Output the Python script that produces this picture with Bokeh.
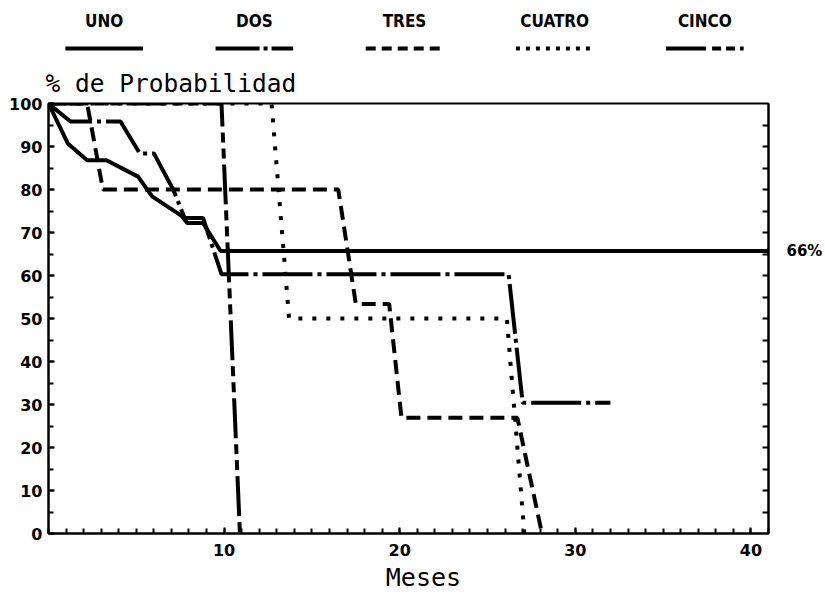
from bokeh.plotting import figure
from bokeh.models import Range1d, FixedTicker, LinearAxis, CustomJSTickFormatter, Title
from bokeh.layouts import column
from bokeh.embed import file_html
from bokeh.resources import INLINE
from bokeh.core.properties import value

# ---- data ----
series_names = ["UNO", "DOS", "TRES", "CUATRO", "CINCO"]

uno_x = [0, 1.1, 2.2, 3.3, 5.1, 5.9, 7.6, 7.9, 8.8, 9.8, 41]
uno_y = [100, 90.7, 86.8, 86.8, 83.0, 78.4, 73.8, 72.2, 72.2, 65.7, 65.7]

dos_x = [0, 1.25, 4.1, 5.2, 6.0, 7.1, 7.75, 8.8, 9.85, 26.2, 27.0, 32.0]
dos_y = [100, 95.8, 95.8, 88.4, 88.4, 80, 73.4, 73.4, 60.3, 60.3, 30.4, 30.4]

tres_x = [0, 2.2, 3.1, 16.5, 17.5, 19.4, 20.1, 26.7, 28.1]
tres_y = [100, 100, 80, 80, 53.4, 53.4, 26.9, 26.9, 0]

cuatro_x = [0, 12.7, 13.7, 26.1, 27.1]
cuatro_y = [100, 100, 50, 50, 0]

cinco_x = [0, 9.85, 10.9]
cinco_y = [100, 100, 0]

x_ticks = [10, 20, 30, 40]
x_minor = list(range(0, 42))
y_ticks = list(range(0, 101, 10))
y_minor = list(range(0, 101, 5))

y_title = "% de Probabilidad"
x_title = "Meses"

# ---- styles / layout ----
dashes = ["solid", "50 5 4 5", "14 7", "4 10", "40 6 10 6 10 6"]
leg_dashes = ["solid", "44 4 4 4", "10 6", "4 6", "40 6 9 5 9 5"]
LW = 4
W = 825
H_LEG = 60
BL, BR = 48, 53          # frame spans pixels 48..772
FRAME_TOP, FRAME_BOT = 102, 533
MAIN_END = 562
H_MAIN = MAIN_END - H_LEG
H_FOOT = 31


def blank(height):
    f = figure(width=W, height=height, x_range=Range1d(BL, W - BR), y_range=Range1d(height, 0),
               output_backend="svg", toolbar_location=None,
               min_border_left=BL, min_border_right=BR, min_border_top=0, min_border_bottom=0,
               x_axis_location=None, y_axis_location=None)
    f.grid.visible = False
    f.outline_line_color = None
    return f


# ---- legend figure (pixel coordinates) ----
leg = blank(H_LEG)
centers = [104 + 151 * i for i in range(len(series_names))]
leg.text(x=centers, y=[20] * len(centers), text=series_names, text_align="center",
         text_baseline="middle",
         text_font=value("'DejaVu Sans Condensed', 'Liberation Sans Narrow', sans-serif"),
         text_font_style="bold", text_font_size="17px", text_color="black")
for c, d in zip(centers, leg_dashes):
    leg.line(x=[c - 39, c + 39], y=[48, 48], line_dash=d, line_width=4, line_color="black")

# ---- main figure ----
p = figure(width=W, height=H_MAIN, x_range=Range1d(0, 41), y_range=Range1d(0, 100),
           output_backend="svg", toolbar_location=None,
           min_border_left=BL, min_border_right=BR, min_border_top=FRAME_TOP - H_LEG,
           min_border_bottom=MAIN_END - FRAME_BOT)
p.title = Title(text=y_title, align="left", offset=-3, standoff=12,
                text_font="DejaVu Sans Mono", text_font_style="normal",
                text_font_size="24.5px", text_color="black")
p.grid.visible = False
p.outline_line_color = "black"
p.outline_line_width = 2

for xs, ys, d in zip([uno_x, dos_x, tres_x, cuatro_x, cinco_x],
                     [uno_y, dos_y, tres_y, cuatro_y, cinco_y], dashes):
    p.line(x=xs, y=ys, line_dash=d, line_width=LW, line_color="black")

p.xaxis.ticker = FixedTicker(ticks=x_ticks, minor_ticks=x_minor)
p.yaxis.ticker = FixedTicker(ticks=y_ticks, minor_ticks=y_minor)
for ax in p.axis:
    ax.axis_line_width = 2
    ax.axis_line_color = "black"
    ax.major_tick_line_width = 2
    ax.minor_tick_line_width = 2
    ax.major_tick_out = 0
    ax.minor_tick_out = 0
    ax.major_tick_in = 6
    ax.minor_tick_in = 5
    ax.major_label_text_font = "DejaVu Sans"
    ax.major_label_text_font_style = "bold"
    ax.major_label_text_font_size = "16px"
    ax.major_label_text_color = "black"
    ax.major_label_standoff = 10
p.yaxis.major_label_standoff = 6

# right axis: inward ticks every 5 and the final value of UNO as "66%"
right = LinearAxis(ticker=FixedTicker(ticks=[uno_y[-1]], minor_ticks=y_minor[1:-1]),
                   formatter=CustomJSTickFormatter(code="return Math.round(tick) + '%'"),
                   axis_line_width=2, minor_tick_in=6, minor_tick_out=0,
                   minor_tick_line_width=2, major_tick_in=0, major_tick_out=0,
                   major_label_standoff=18, major_label_text_font="DejaVu Sans",
                   major_label_text_font_style="bold", major_label_text_font_size="15px",
                   major_label_text_color="black")
p.add_layout(right, "right")

# ---- footer with the x-axis title ----
foot = blank(H_FOOT)
foot.text(x=[425], y=[15], text=[x_title], text_align="center", text_baseline="middle",
          text_font=value("DejaVu Sans Mono"), text_font_size="25px", text_color="black")

layout = column(leg, p, foot, spacing=0)
open("out.html", "w").write(file_html(layout, INLINE))
